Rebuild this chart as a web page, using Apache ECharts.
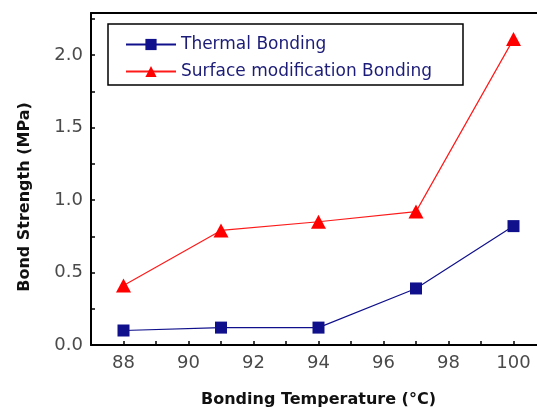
<!DOCTYPE html>
<html><head><meta charset="utf-8">
<script src="https://cdn.jsdelivr.net/npm/echarts@6/dist/echarts.min.js"></script>
<style>html,body{margin:0;padding:0;background:#fff}#c{width:537px;height:412px}</style>
</head><body><div id="c"></div>
<script>
const temperatures = [88, 91, 94, 97, 100];
const thermalBonding = [0.10, 0.12, 0.12, 0.39, 0.82];
const surfaceBonding = [0.41, 0.79, 0.85, 0.92, 2.11];
const seriesNames = ['Thermal Bonding', 'Surface modification Bonding'];
const xName = 'Bonding Temperature (°C)';
const yName = 'Bond Strength (MPa)';

const chart = echarts.init(document.getElementById('c'), null, {renderer: 'canvas'});
const font = 'DejaVu Sans';
chart.setOption({
  animation: false,
  backgroundColor: '#fff',
  grid: {left: 91, width: 455, top: 13, bottom: 67, outerBoundsMode: 'none', containLabel: false},
  legend: {
    left: 108, top: 24, orient: 'vertical',
    borderColor: '#000', borderWidth: 1.5,
    padding: [12, 31, 5, 17], itemGap: 10,
    itemWidth: 50, itemHeight: 14,
    textStyle: {color: '#1c1c78', fontFamily: font, fontSize: 17},
    data: seriesNames
  },
  xAxis: [{
    type: 'value', min: 87, max: 101, interval: 1,
    name: xName, nameLocation: 'middle', nameGap: 47,
    nameTextStyle: {fontFamily: font, fontWeight: 'bold', fontSize: 16, color: '#111'},
    axisLine: {lineStyle: {color: '#000', width: 2}},
    axisTick: {inside: true, length: 4, lineStyle: {color: '#000', width: 1.5}},
    axisLabel: {margin: 9, fontFamily: font, fontSize: 18, color: '#4a4a4a',
      formatter: v => (Math.abs(v % 2) < 1e-9 && v < 101 ? String(v) : '')},
    splitLine: {show: false}
  }, {
    type: 'value', position: 'top', min: 87, max: 101,
    axisLine: {show: true, lineStyle: {color: '#000', width: 2}},
    axisTick: {show: false}, axisLabel: {show: false}, splitLine: {show: false}
  }],
  yAxis: {
    type: 'value', min: 0, max: 2.29, interval: 0.25,
    axisLine: {show: true, lineStyle: {color: '#000', width: 2}},
    axisTick: {inside: true, length: 4, lineStyle: {color: '#000', width: 1.5}},
    axisLabel: {margin: 8, fontFamily: font, fontSize: 18, color: '#4a4a4a',
      formatter: v => (Math.abs((v * 2) - Math.round(v * 2)) < 1e-9 ? v.toFixed(1) : '')},
    splitLine: {show: false}
  },
  graphic: [{
    type: 'text', x: 25, y: 197, rotation: Math.PI / 2,
    style: {text: yName, fontFamily: font, fontWeight: 'bold', fontSize: 16, fill: '#111',
      align: 'center', verticalAlign: 'middle'}
  }],
  series: [{
    name: seriesNames[0], type: 'line',
    data: temperatures.map((t, i) => [t, thermalBonding[i]]),
    symbol: 'rect', symbolSize: 12,
    itemStyle: {color: '#10108c'},
    lineStyle: {color: '#10108c', width: 1.2}
  }, {
    name: seriesNames[1], type: 'line',
    data: temperatures.map((t, i) => [t, surfaceBonding[i]]),
    symbol: 'triangle', symbolSize: [15, 14],
    itemStyle: {color: '#ff0000'},
    lineStyle: {color: '#ff1a1a', width: 1.2}
  }]
});
</script></body></html>
